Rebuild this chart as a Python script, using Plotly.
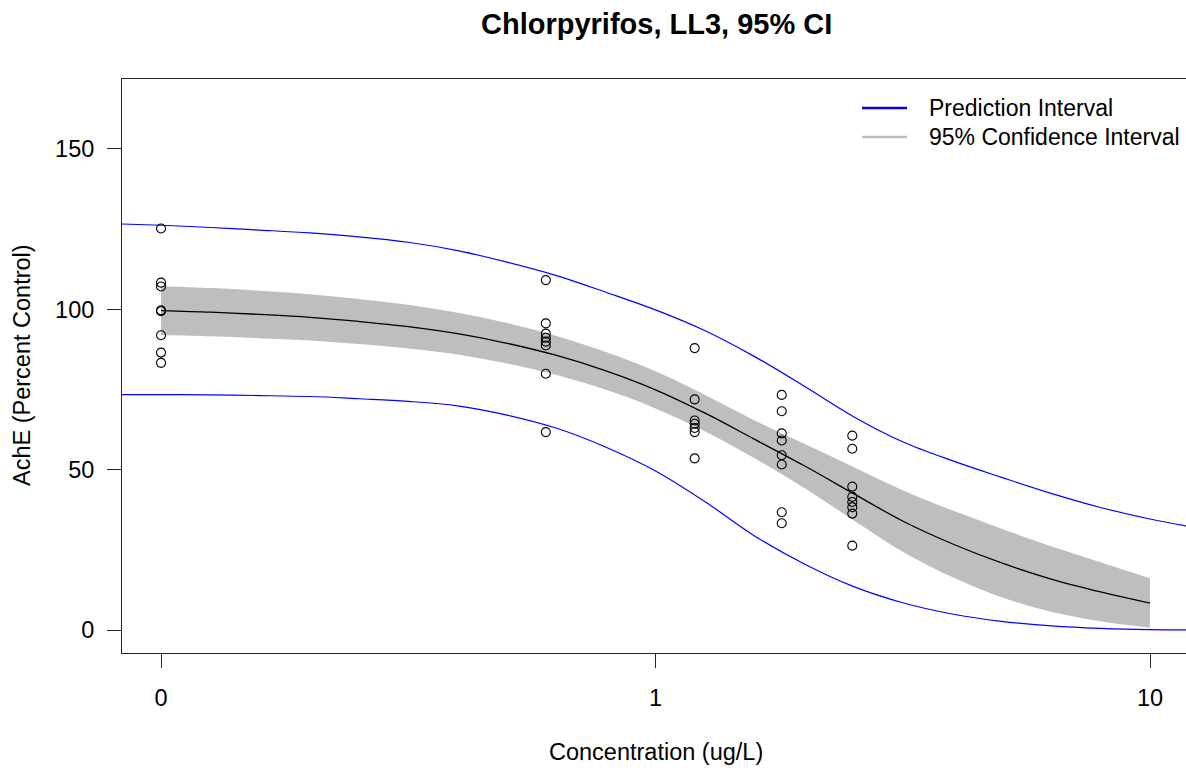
import plotly.graph_objects as go

# ---- observations: AChE activity (% of control) by chlorpyrifos concentration (ug/L)
conc_levels = [0, 0.6, 1.2, 1.8, 2.5]
ache_0 = [125.2, 108.3, 107.1, 99.7, 99.4, 91.9, 86.5, 83.3]
ache_0_6 = [109.1, 95.6, 92.4, 91.1, 89.9, 88.7, 79.9, 61.7]
ache_1_2 = [87.9, 71.9, 65.3, 64.3, 63.0, 61.7, 53.5]
ache_1_8 = [73.3, 68.2, 61.3, 59.1, 54.5, 51.6, 36.7, 33.3]
ache_2_5 = [60.6, 56.5, 44.7, 41.5, 39.9, 38.3, 36.3, 26.3]

# the zero dose is shown at 0.1 on the log axis, labelled "0"
control_pos = 0.1

# ---- LL3 fit with 95% confidence band, evaluated on a log-spaced dose grid
curve_dose = [0.1, 0.126, 0.158, 0.2, 0.251, 0.316, 0.398, 0.501, 0.631, 0.794,
              1.0, 1.26, 1.58, 2.0, 2.51, 3.16, 3.98, 5.01, 6.31, 7.94, 10.0]
fit_mean = [99.6, 99.1, 98.4, 97.5, 96.2, 94.6, 92.4, 89.4, 85.6, 80.8,
            74.9, 67.6, 59.6, 51.2, 42.6, 34.0, 26.9, 20.9, 15.9, 11.9, 8.4]
ci_upper = [107.2, 106.6, 105.8, 104.7, 103.2, 101.4, 98.9, 95.7, 91.7, 86.7,
            80.7, 73.3, 65.5, 58.1, 50.9, 43.6, 37.3, 31.6, 26.1, 21.1, 16.1]
ci_lower = [92.0, 91.6, 91.0, 90.3, 89.2, 87.8, 85.9, 83.1, 79.5, 74.9,
            69.1, 61.9, 53.7, 44.3, 34.3, 24.4, 16.5, 10.2, 5.7, 2.7, 0.7]

# ---- prediction interval, spanning the whole axis
pi_dose = [0.0794, 0.1, 0.126, 0.158, 0.2, 0.251, 0.316, 0.398, 0.501, 0.631, 0.794,
           1.0, 1.26, 1.58, 2.0, 2.51, 3.16, 3.98, 5.01, 6.31, 7.94, 10.0, 12.59]
pi_upper = [126.7, 126.2, 125.5, 124.7, 123.8, 122.6, 120.9, 118.3, 114.7, 110.5, 105.3,
            99.8, 93.3, 85.4, 76.0, 66.6, 58.7, 52.8, 47.6, 42.6, 38.2, 34.6, 31.7]
pi_lower = [73.4, 73.4, 73.3, 73.1, 72.8, 72.1, 71.3, 69.9, 67.0, 62.9, 57.0,
            49.6, 40.0, 29.5, 20.6, 13.6, 8.5, 5.0, 2.7, 1.3, 0.5, 0.1, 0.0]

x_tick_vals = [0.1, 1, 10]
x_tick_text = ["0", "1", "10"]
y_tick_vals = [0, 50, 100, 150]

title_text = "Chlorpyrifos, LL3, 95% CI"
x_title = "Concentration (ug/L)"
y_title = "AchE (Percent Control)"
legend_labels = ["Prediction Interval", "95% Confidence Interval"]

FONT = "Liberation Sans, Arial, Helvetica, sans-serif"
BLUE = "#0000FF"
GREY = "#BEBEBE"
INK = "#000000"
AXIS = "#262626"
BASE = 23.5

# pixel geometry of the plotting region
W, H = 1186, 771
L_M, R_M, T_M, B_M = 122, 0, 79, 118
PW, PH = W - L_M - R_M, H - T_M - B_M


def px_x(px):
    return (px - L_M) / PW


def px_y(py):
    return (H - B_M - py) / PH


groups = [ache_0, ache_0_6, ache_1_2, ache_1_8, ache_2_5]
pt_x, pt_y = [], []
for c, vals in zip(conc_levels, groups):
    xpos = control_pos if c == 0 else c
    pt_x += [xpos] * len(vals)
    pt_y += vals

fig = go.Figure()

# confidence band
fig.add_trace(go.Scatter(x=curve_dose, y=ci_lower, mode="lines",
                         line=dict(width=0, shape="spline", color=GREY),
                         hoverinfo="skip", showlegend=False))
fig.add_trace(go.Scatter(x=curve_dose, y=ci_upper, mode="lines", fill="tonexty",
                         fillcolor=GREY, line=dict(width=0, shape="spline", color=GREY),
                         hoverinfo="skip", showlegend=False))

# prediction interval
for yv in (pi_upper, pi_lower):
    fig.add_trace(go.Scatter(x=pi_dose, y=yv, mode="lines",
                             line=dict(color=BLUE, width=1.2, shape="spline"),
                             showlegend=False))

# fitted curve
fig.add_trace(go.Scatter(x=curve_dose, y=fit_mean, mode="lines",
                         line=dict(color=INK, width=1.3, shape="spline"),
                         showlegend=False))

# observations
fig.add_trace(go.Scatter(x=pt_x, y=pt_y, mode="markers",
                         marker=dict(symbol="circle-open", size=9, color=INK,
                                     line=dict(width=1.1, color=INK)),
                         showlegend=False))

annotations = [
    dict(text=f"<b>{title_text}</b>", x=px_x(656), y=px_y(24), xref="paper", yref="paper",
         showarrow=False, xanchor="center", yanchor="middle",
         font=dict(family=FONT, size=29, color=INK)),
    dict(text=x_title, x=px_x(656), y=px_y(752), xref="paper", yref="paper",
         showarrow=False, xanchor="center", yanchor="middle",
         font=dict(family=FONT, size=BASE, color=INK)),
    dict(text=y_title, x=px_x(22), y=px_y(365), xref="paper", yref="paper",
         showarrow=False, xanchor="center", yanchor="middle", textangle=-90,
         font=dict(family=FONT, size=BASE, color=INK)),
]
shapes = []
for label, color, py in zip(legend_labels, [BLUE, GREY], [108, 137]):
    shapes.append(dict(type="line", xref="paper", yref="paper",
                       x0=px_x(862), x1=px_x(907), y0=px_y(py), y1=px_y(py),
                       line=dict(color=color, width=2.5)))
    annotations.append(dict(text=label, x=px_x(927), y=px_y(py), xref="paper", yref="paper",
                            showarrow=False, xanchor="left", yanchor="middle",
                            font=dict(family=FONT, size=23, color=INK)))

fig.update_layout(
    width=W, height=H,
    margin=dict(l=L_M, r=R_M, t=T_M, b=B_M, pad=0),
    paper_bgcolor="white", plot_bgcolor="white",
    font=dict(family=FONT, size=BASE, color=INK),
    showlegend=False,
    annotations=annotations,
    shapes=shapes,
    xaxis=dict(type="log", range=[-1.0789, 1.0728],
               tickvals=x_tick_vals, ticktext=x_tick_text,
               ticks="outside", ticklen=14, tickwidth=1, tickcolor=AXIS,
               showline=True, linecolor=AXIS, linewidth=1, mirror=True,
               showgrid=False, zeroline=False, ticklabelstandoff=10,
               tickfont=dict(family=FONT, size=BASE, color=INK)),
    yaxis=dict(range=[-7.17, 171.8], tickvals=y_tick_vals,
               ticks="outside", ticklen=14, tickwidth=1, tickcolor=AXIS,
               showline=True, linecolor=AXIS, linewidth=1, mirror=False,
               showgrid=False, zeroline=False, ticklabelstandoff=8,
               tickfont=dict(family=FONT, size=BASE, color=INK)),
)

fig.write_html("out.html")
